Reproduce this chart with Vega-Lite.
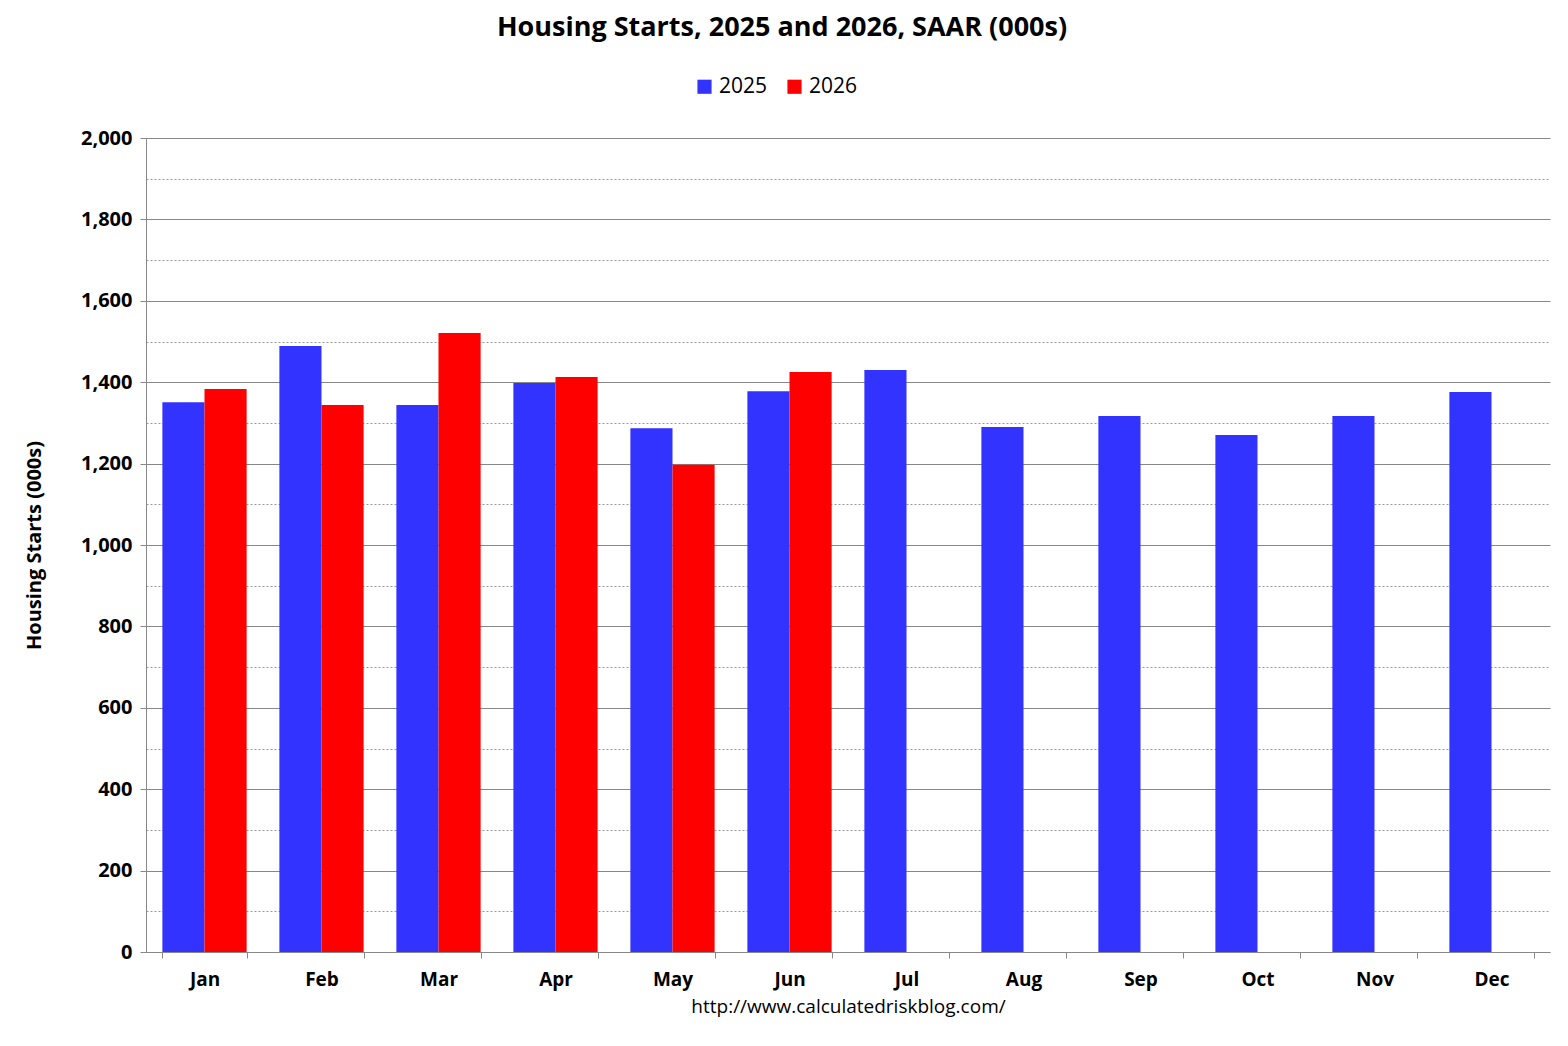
{
  "$schema": "https://vega.github.io/schema/vega-lite/v6.json",
  "width": 1404,
  "height": 814,
  "padding": {"left": 24, "top": 14, "right": 10, "bottom": 5},
  "background": "white",
  "title": {"text": "Housing Starts,  2025 and 2026, SAAR (000s)", "fontSize": 27, "font": "Open Sans", "fontWeight": "bold", "offset": 34, "dx": -66},
  "data": {
    "values": [
      {"month": "Jan", "year": "2025", "starts": 1351}, {"month": "Jan", "year": "2026", "starts": 1383},
      {"month": "Feb", "year": "2025", "starts": 1489}, {"month": "Feb", "year": "2026", "starts": 1344},
      {"month": "Mar", "year": "2025", "starts": 1344}, {"month": "Mar", "year": "2026", "starts": 1521},
      {"month": "Apr", "year": "2025", "starts": 1398}, {"month": "Apr", "year": "2026", "starts": 1413},
      {"month": "May", "year": "2025", "starts": 1287}, {"month": "May", "year": "2026", "starts": 1197},
      {"month": "Jun", "year": "2025", "starts": 1378}, {"month": "Jun", "year": "2026", "starts": 1425},
      {"month": "Jul", "year": "2025", "starts": 1430},
      {"month": "Aug", "year": "2025", "starts": 1290},
      {"month": "Sep", "year": "2025", "starts": 1317},
      {"month": "Oct", "year": "2025", "starts": 1270},
      {"month": "Nov", "year": "2025", "starts": 1317},
      {"month": "Dec", "year": "2025", "starts": 1376}
    ]
  },
  "encoding": {
    "x": {
      "field": "month", "type": "nominal",
      "sort": ["Jan","Feb","Mar","Apr","May","Jun","Jul","Aug","Sep","Oct","Nov","Dec"],
      "scale": {"paddingInner": 0.28, "paddingOuter": 0.14},
      "axis": {"labelAngle": 0, "labelFont": "Open Sans", "labelFontSize": 19, "labelFontWeight": "bold", "labelColor": "black", "labelPadding": 12,
               "title": "http://www.calculatedriskblog.com/", "titleFont": "Open Sans", "titleFontSize": 19, "titleFontWeight": "normal", "titlePadding": 8,
               "domainColor": "#888", "tickColor": "#888", "tickBand": "extent", "tickSize": 6}
    },
    "xOffset": {"field": "year", "type": "nominal", "scale": {"domain": ["2025", "2026"]}},
    "y": {
      "field": "starts", "type": "quantitative",
      "scale": {"domain": [0, 2000]}
    }
  },
  "layer": [
    {
      "mark": {"type": "bar", "opacity": 0},
      "encoding": {
        "y": {"field": "starts", "type": "quantitative", "scale": {"domain": [0, 2000]},
              "axis": {"orient": "left", "values": [100,300,500,700,900,1100,1300,1500,1700,1900], "labels": false, "ticks": false, "domain": false, "title": null, "grid": true, "gridDash": [2, 2], "gridColor": "#999"}}
      }
    },
    {
      "mark": {"type": "bar"},
      "encoding": {
        "y": {"field": "starts", "type": "quantitative", "scale": {"domain": [0, 2000]},
              "axis": {"orient": "left", "values": [0,200,400,600,800,1000,1200,1400,1600,1800,2000], "labelExpr": "format(datum.value, ',')", "grid": true, "gridColor": "#888",
                       "labelFont": "Open Sans", "labelFontSize": 20, "labelFontWeight": "bold", "labelColor": "black", "labelPadding": 8,
                       "title": "Housing Starts (000s)", "titleFont": "Open Sans", "titleFontSize": 20, "titleFontWeight": "bold", "titlePadding": 36,
                       "domainColor": "#888", "tickColor": "#888", "tickSize": 6}},
        "color": {"field": "year", "type": "nominal", "scale": {"domain": ["2025", "2026"], "range": ["#3333ff", "#ff0000"]},
                  "legend": {"orient": "none", "legendX": 548, "legendY": -62, "direction": "horizontal", "title": null, "symbolType": "square", "symbolSize": 200, "symbolStrokeWidth": 0,
                             "labelFont": "Open Sans", "labelFontSize": 21, "columnPadding": 16}}
      }
    }
  ],
  "resolve": {"axis": {"y": "independent"}},
  "config": {"view": {"stroke": null}, "legend": {"symbolOpacity": 1}}
}
